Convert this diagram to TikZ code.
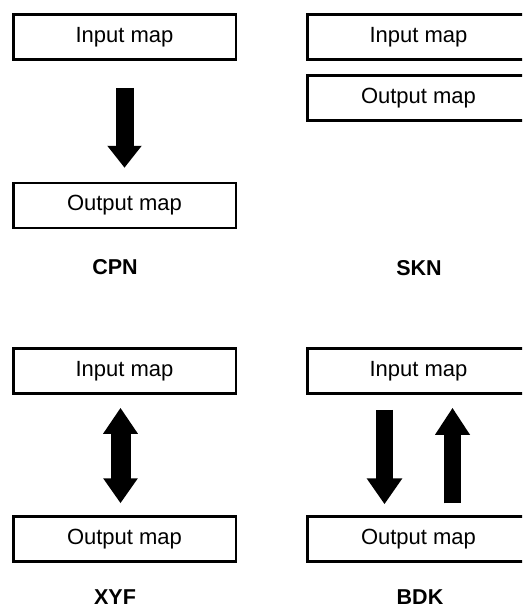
\documentclass[tikz,border=0pt]{standalone}
\usepackage{fontspec}
\setmainfont{Liberation Sans}
\usetikzlibrary{arrows.meta}

\tikzset{
  mapbox/.style={draw=black,fill=white,line width=2.5pt,minimum width=222.5pt,minimum height=45pt,inner sep=0pt,font=\fontsize{22}{26}\selectfont},
  mapname/.style={font=\fontsize{21.5}{26}\selectfont\bfseries},
  fatarrow/.style={line width=18pt,-{Triangle[width=33pt,length=22pt]}},
}

\begin{document}
\begin{tikzpicture}[x=1pt,y=-1pt]
            \clip (0,0) rectangle (522,610);

            % CPN
            \node[mapbox] (cpnin) at (124.5,37) {Input map};
            \node[mapbox] (cpnout) at (124.5,205.5) {Output map};
            \node[mapname] (cpn) at (115,267) {CPN};
            \draw[fatarrow,shorten <=27pt,shorten >=14pt] (cpnin.south) -- (cpnout.north);

            % SKN
            \node[mapbox] (sknin) at (418.5,37) {Input map};
            \node[mapbox] (sknout) at (418.5,98) {Output map};
            \node[mapname] (skn) at (419,268) {SKN};

            % XYF
            \node[mapbox] (xyfin) at (124.5,371) {Input map};
            \node[mapbox] (xyfout) at (124.5,539) {Output map};
            \node[mapname] (xyf) at (115,597) {XYF};
            \draw[line width=20pt,{Triangle[width=33pt,length=26pt]}-{Triangle[width=33pt,length=25pt]},shorten <=13pt,shorten >=12pt]
                ([xshift=-4pt]xyfin.south) -- ([xshift=-4pt]xyfout.north);

            % BDK
            \node[mapbox] (bdkin) at (418.5,371) {Input map};
            \node[mapbox] (bdkout) at (418.5,539) {Output map};
            \node[mapname] (bdk) at (420,597) {BDK};
            \draw[fatarrow,line width=17pt,-{Triangle[width=34pt,length=26pt]},shorten <=15pt,shorten >=11pt]
                ([xshift=-34pt]bdkin.south) -- ([xshift=-34pt]bdkout.north);
            \draw[fatarrow,line width=17pt,-{Triangle[width=33pt,length=27pt]},shorten <=12pt,shorten >=13pt]
                ([xshift=34pt]bdkout.north) -- ([xshift=34pt]bdkin.south);
\end{tikzpicture}
\end{document}
